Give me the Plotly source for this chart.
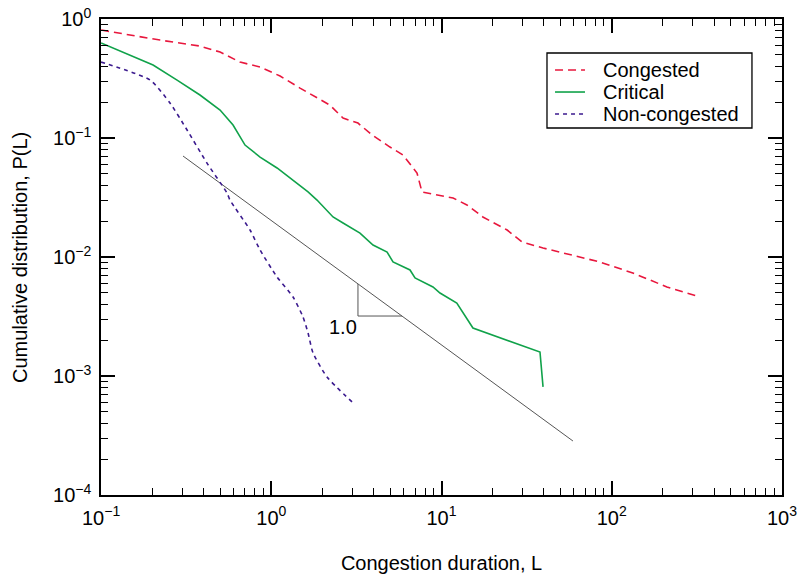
import numpy as np
import plotly.graph_objects as go

# Congested
cong_x = [0.1, 0.222, 0.381, 0.5, 0.655, 0.859, 1.126, 1.475, 2.21, 2.64, 3.23, 3.91, 4.98,
          5.94, 7.18, 7.68, 11.7, 14.1, 17.5, 24.3, 29.7, 39.5, 85.3, 133, 211, 330]
cong_y = [0.808, 0.666, 0.593, 0.528, 0.435, 0.395, 0.332, 0.263, 0.189, 0.147, 0.1336, 0.106, 0.084,
          0.072, 0.0508, 0.0352, 0.0313, 0.0274, 0.0217, 0.01686, 0.01337, 0.0119, 0.00908, 0.00734,
          0.0056, 0.00461]

# Critical
crit_x = [0.1, 0.202, 0.2795, 0.381, 0.5, 0.596, 0.701, 0.859, 1.081, 1.342, 1.644, 1.856, 2.305,
          2.64, 3.32, 3.96, 4.79, 5.19, 5.70, 6.53, 6.99, 8.91, 9.8, 12.3, 15.3, 37.9, 39.5]
crit_y = [0.629, 0.411, 0.307, 0.230, 0.172, 0.1286, 0.0873, 0.0692, 0.056, 0.0444, 0.0352, 0.0301,
          0.0217, 0.0193, 0.0159, 0.0126, 0.0110, 0.00908, 0.00857, 0.00778, 0.00667, 0.0056, 0.00498,
          0.0041, 0.00253, 0.00159, 0.00081]

# Non-congested
non_x = [0.1, 0.194, 0.254, 0.320, 0.419, 0.5495, 0.572, 0.750, 0.859, 1.081, 1.342, 1.536, 1.644,
         1.759, 2.126, 2.98]
non_y = [0.435, 0.307, 0.197, 0.1168, 0.0616, 0.0345, 0.0301, 0.01686, 0.01145, 0.00679, 0.00461,
         0.00313, 0.0023, 0.00156, 0.00098, 0.000605]

# Reference slope line and triangle
ref_x = [0.303, 59.2]
ref_y = [0.0706, 0.000284]
tri_x = [3.23, 3.23, 5.86]
tri_y = [0.00593, 0.00319, 0.00319]
slope_label = "1.0"
slope_label_pos = (2.64, 0.00258)

# Tick labels
x_tickvals = [0.1, 1, 10, 100, 1000]
x_ticktext = ["10<sup>−1</sup>", "10<sup>0</sup>", "10<sup>1</sup>", "10<sup>2</sup>", "10<sup>3</sup>"]
y_tickvals = [1e-4, 1e-3, 1e-2, 1e-1, 1]
y_ticktext = ["10<sup>−4</sup>", "10<sup>−3</sup>", "10<sup>−2</sup>", "10<sup>−1</sup>", "10<sup>0</sup>"]

FONT = "Liberation Sans, Arial, Helvetica, sans-serif"
FS = 20

series = [
    ("Congested", cong_x, cong_y, dict(color="#e8173d", width=1.6, dash="8px,5px"), "linear"),
    ("Critical", crit_x, crit_y, dict(color="#10a24a", width=1.6), "linear"),
    ("Non-congested", non_x, non_y, dict(color="#3b1a8e", width=1.6, dash="4px,4px"), "spline"),
]

fig = go.Figure()
fig.add_trace(go.Scatter(x=ref_x, y=ref_y, mode="lines", line=dict(color="#555555", width=1),
                         showlegend=False, hoverinfo="skip"))
fig.add_trace(go.Scatter(x=tri_x, y=tri_y, mode="lines", line=dict(color="#555555", width=1),
                         showlegend=False, hoverinfo="skip"))
for name, xs, ys, ln, shape in series:
    fig.add_trace(go.Scatter(x=xs, y=ys, mode="lines", name=name, line=dict(shape=shape, smoothing=0.6, **ln),
                             showlegend=False))

fig.add_annotation(x=np.log10(slope_label_pos[0]), y=np.log10(slope_label_pos[1]), text=slope_label,
                   showarrow=False, font=dict(size=FS, color="black", family=FONT))

# Y axis title as rotated text
fig.add_annotation(xref="paper", yref="paper", x=-0.119, y=0.5, text="Cumulative distribution, P(L)",
                   textangle=-90, showarrow=False, xanchor="center", yanchor="middle",
                   font=dict(size=FS, color="black", family=FONT))

# Legend box (drawn in paper coordinates)
fig.add_shape(type="rect", xref="paper", yref="paper", x0=0.6549, x1=0.9559, y0=0.7710, y1=0.9286,
              line=dict(color="black", width=1.3), fillcolor="white", layer="above")
row_y = [0.8929, 0.8466, 0.8004]
for (name, xs, ys, ln, shape), yy in zip(series, row_y):
    fig.add_shape(type="line", xref="paper", yref="paper", x0=0.6667, x1=0.7107, y0=yy, y1=yy,
                  line=ln, layer="above")
    fig.add_annotation(xref="paper", yref="paper", x=0.7342, y=yy, text=name, showarrow=False,
                       xanchor="left", yanchor="middle", font=dict(size=FS, color="black", family=FONT))

axis_common = dict(
    type="log", showline=True, linecolor="black", linewidth=1.5, mirror="ticks",
    ticks="inside", ticklen=14, tickwidth=1.5, tickcolor="black",
    showgrid=False, zeroline=False, automargin=False,
    tickfont=dict(size=FS, color="black", family=FONT),
    minor=dict(ticks="inside", ticklen=7, tickwidth=1.2, tickcolor="black", dtick="D1", showgrid=False),
)

fig.update_xaxes(range=[-1.0005, 3.0005], tickvals=x_tickvals, ticktext=x_ticktext, ticklabelstandoff=4,
                 title=dict(text="Congestion duration, L", standoff=28,
                            font=dict(size=FS, color="black", family=FONT)), **axis_common)
fig.update_yaxes(range=[-4.0005, 0.0005], tickvals=y_tickvals, ticktext=y_ticktext, ticklabelstandoff=4,
                 **axis_common)

fig.update_layout(
    width=798, height=577,
    margin=dict(l=101, r=16, t=19, b=82),
    paper_bgcolor="white", plot_bgcolor="white",
    font=dict(family=FONT, size=FS, color="black"),
    showlegend=False,
)

fig.write_html("out.html", config={"displayModeBar": False},
               post_script="document.body.style.margin='0';document.body.style.overflow='hidden';")
